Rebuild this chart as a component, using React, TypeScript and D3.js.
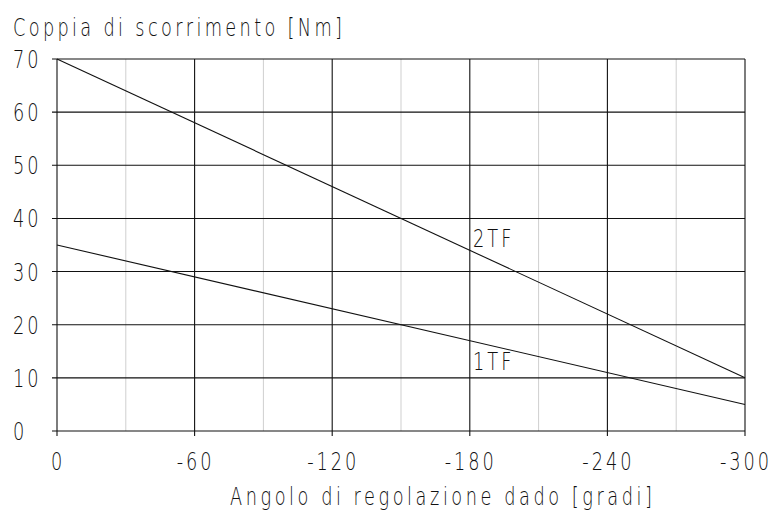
import React from 'react';
import * as d3 from 'd3';

const xMajor = [0, -60, -120, -180, -240, -300];
const xMinor = [-30, -90, -150, -210, -270];
const yTicks = [0, 10, 20, 30, 40, 50, 60, 70];
const series2TF = [
  { angle: 0, torque: 70 },
  { angle: -300, torque: 10 },
];
const series1TF = [
  { angle: 0, torque: 35 },
  { angle: -300, torque: 5 },
];
const labels = [
  { name: '2TF', angle: -181, torque: 34.6 },
  { name: '1TF', angle: -181, torque: 11.4 },
];

const W = 778;
const H = 512;
const left = 57;
const right = 745;
const top = 59;
const bottom = 431;

const SX = 0.74;
const SY = 1.06;

// stretched thin text to imitate the narrow technical lettering
function Txt(props: {
  x: number;
  y: number;
  anchor?: 'start' | 'middle' | 'end';
  len?: number;
  children: React.ReactNode;
}) {
  const { x, y, anchor = 'start', len, children } = props;
  return (
    <text
      transform={`translate(${x},${y}) scale(${SX},${SY})`}
      fontFamily="'DejaVu Sans', sans-serif"
      fontWeight={200}
      fontSize={24}
      letterSpacing={len ? undefined : 4}
      textAnchor={anchor}
      textLength={len ? len / SX : undefined}
      lengthAdjust={len ? 'spacing' : undefined}
      fill="#111"
    >
      {children}
    </text>
  );
}

export default function App() {
  const x = d3.scaleLinear().domain([0, -300]).range([left, right]);
  const y = d3.scaleLinear().domain([0, 70]).range([bottom, top]);
  const line = d3
    .line<{ angle: number; torque: number }>()
    .x((d) => x(d.angle))
    .y((d) => y(d.torque));

  return (
    <svg
      width={W}
      height={H}
      style={{ position: 'absolute', left: 0, top: 0, background: '#fff' }}
    >
      {xMinor.map((v) => (
        <line key={'m' + v} x1={x(v)} x2={x(v)} y1={top} y2={bottom} stroke="#cfcfcf" strokeWidth={1} />
      ))}
      {yTicks.map((v) => (
        <line key={'h' + v} x1={left - 5} x2={right} y1={y(v)} y2={y(v)} stroke="#111" strokeWidth={1.1} />
      ))}
      {xMajor.map((v) => (
        <line key={'v' + v} x1={x(v)} x2={x(v)} y1={top} y2={bottom + 5} stroke="#111" strokeWidth={1.1} />
      ))}
      <path d={line(series2TF) || ''} fill="none" stroke="#111" strokeWidth={1.1} />
      <path d={line(series1TF) || ''} fill="none" stroke="#111" strokeWidth={1.1} />

      {labels.map((l) => (
        <Txt key={l.name} x={x(l.angle) + 1} y={y(l.torque)}>
          {l.name}
        </Txt>
      ))}

      {yTicks.map((v) => (
        <Txt key={'yl' + v} x={13} y={y(v) + 9}>
          {v}
        </Txt>
      ))}
      {xMajor.map((v) => (
        <Txt key={'xl' + v} x={x(v) + 1} y={470} anchor="middle">
          {v === 0 ? '0' : '-' + Math.abs(v)}
        </Txt>
      ))}

      <Txt x={13} y={36} len={329}>
        Coppia di scorrimento [Nm]
      </Txt>
      <Txt x={230} y={505} len={422}>
        Angolo di regolazione dado [gradi]
      </Txt>
    </svg>
  );
}
